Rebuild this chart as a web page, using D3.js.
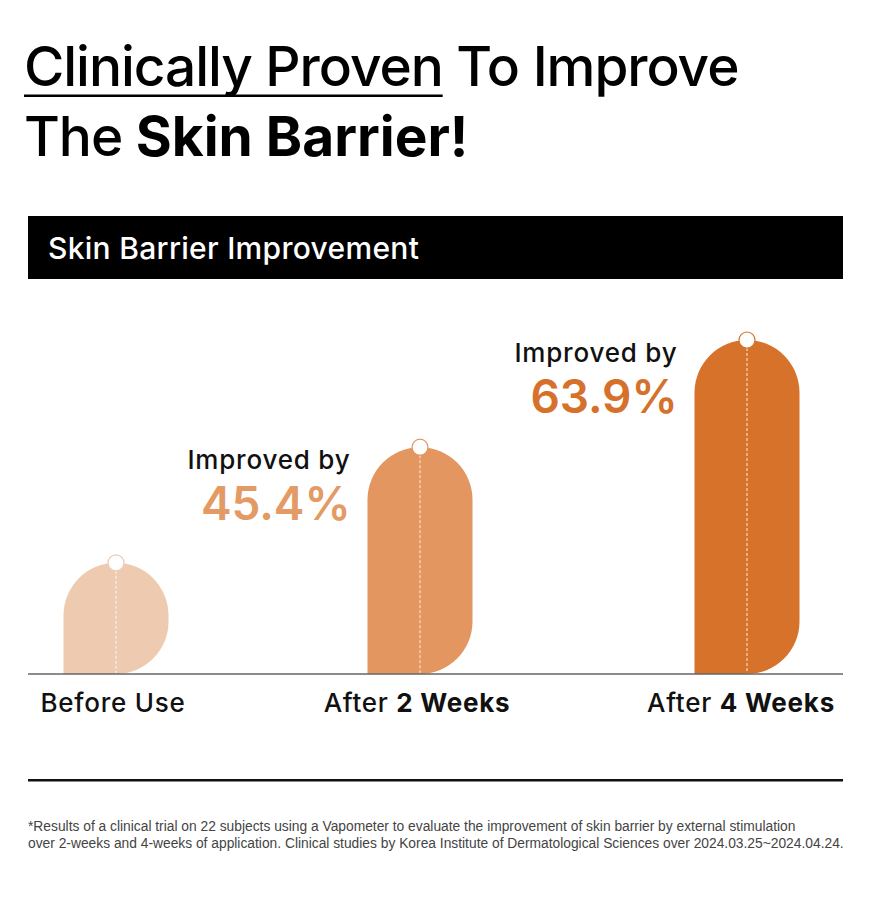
<!DOCTYPE html>
<html>
<head>
<meta charset="utf-8">
<script src="https://cdn.jsdelivr.net/npm/d3@7"></script>
<style>
	body { margin: 0; background: #fff; }
	svg { display: block; font-family: Inter, "Liberation Sans", Arial, sans-serif; }
</style>
</head>
<body>
<svg id="chart" width="872" height="912"></svg>
<script>
	'use strict';

	// data
	var categories = ['Before Use', 'After 2 Weeks', 'After 4 Weeks'];
	var labelPlain = ['Before Use', 'After ', 'After '];
	var labelBold = ['', '2 Weeks', '4 Weeks'];
	var barValues = [33.3, 67.9, 100];           // relative bar height
	var improvements = [null, 45.4, 63.9];        // % improved vs. before use
	var barColors = ['#EECBB0', '#E3965F', '#D6722A'];
	var pctColors = ['#EECBB0', '#E39A64', '#D5712B'];

	var svg = d3.select('#chart');
	var left = 28, right = 843;
	var baseY = 674, topY = 340;
	var barW = 105;

	// title
	var t1 = svg.append('text').attr('x', 24).attr('y', 86)
		.attr('font-size', 55).attr('font-weight', 500).attr('fill', '#000').attr('letter-spacing', -1.05);
	t1.append('tspan').text('Clinically Proven');
	t1.append('tspan').text(' To Improve');
	var ul = t1.select('tspan').node().getComputedTextLength();
	svg.append('rect').attr('x', 24).attr('y', 94.5).attr('width', ul).attr('height', 2.5).attr('fill', '#000');

	var t2 = svg.append('text').attr('x', 24).attr('y', 156)
		.attr('font-size', 55).attr('font-weight', 500).attr('fill', '#000').attr('letter-spacing', -1.05);
	t2.append('tspan').text('The ');
	t2.append('tspan').attr('font-weight', 700).attr('letter-spacing', 0).text('Skin Barrier!');

	// header band
	svg.append('rect').attr('x', left).attr('y', 216).attr('width', right - left).attr('height', 63).attr('fill', '#000');
	svg.append('text').attr('x', 48).attr('y', 259).attr('font-size', 30).attr('font-weight', 500).attr('fill', '#fff')
		.attr('letter-spacing', 0.3).text('Skin Barrier Improvement');

	// scales
	var x = d3.scaleOrdinal().domain(categories).range([116, 420, 747]);
	var y = d3.scaleLinear().domain([0, 100]).range([baseY, topY]);

	var bars = categories.map(function (c, i) {
		return {cat: c, value: barValues[i], imp: improvements[i], color: barColors[i], pct: pctColors[i], i: i};
	});

	function barPath(d) {
		var cx = x(d.cat), x0 = cx - barW / 2, x1 = cx + barW / 2;
		var top = y(d.value), bot = y(0), r = barW / 2;
		return 'M' + x0 + ',' + bot +
			'L' + x0 + ',' + (top + r) +
			'A' + r + ',' + r + ' 0 0 1 ' + x1 + ',' + (top + r) +
			'L' + x1 + ',' + (bot - r) +
			'A' + r + ',' + r + ' 0 0 1 ' + (x1 - r) + ',' + bot + 'Z';
	}

	var g = svg.append('g');
	g.selectAll('path.bar').data(bars).enter().append('path')
		.attr('class', 'bar').attr('d', barPath).attr('fill', function (d) { return d.color; });

	g.selectAll('line.dash').data(bars).enter().append('line')
		.attr('class', 'dash')
		.attr('x1', function (d) { return x(d.cat); }).attr('x2', function (d) { return x(d.cat); })
		.attr('y1', function (d) { return y(d.value) + 8; }).attr('y2', y(0))
		.attr('stroke', '#fff').attr('stroke-width', 1).attr('stroke-dasharray', '3,2').attr('opacity', 0.85);

	g.selectAll('circle.cap').data(bars).enter().append('circle')
		.attr('class', 'cap')
		.attr('cx', function (d) { return x(d.cat); }).attr('cy', function (d) { return y(d.value); })
		.attr('r', 8).attr('fill', '#fff')
		.attr('stroke', function (d) { return d.color; }).attr('stroke-width', 1.2);

	// baseline
	svg.append('line').attr('x1', left).attr('x2', right).attr('y1', baseY).attr('y2', baseY)
		.attr('stroke', '#666').attr('stroke-width', 1.5);

	// improvement labels
	var lab = bars.filter(function (d) { return d.imp !== null; });
	svg.selectAll('text.imp').data(lab).enter().append('text')
		.attr('class', 'imp').attr('text-anchor', 'end')
		.attr('x', function (d) { return x(d.cat) - barW / 2 - 17; })
		.attr('y', function (d) { return y(d.value) + 22; })
		.attr('font-size', 26).attr('font-weight', 500).attr('letter-spacing', 0.8)
		.attr('fill', '#111').text('Improved by');
	svg.selectAll('text.pct').data(lab).enter().append('text')
		.attr('class', 'pct').attr('text-anchor', 'end')
		.attr('x', function (d) { return x(d.cat) - barW / 2 - 17; })
		.attr('y', function (d) { return y(d.value) + 73; })
		.attr('font-size', 46).attr('font-weight', 600).attr('letter-spacing', -0.1)
		.attr('fill', function (d) { return d.pct; })
		.text(function (d) { return d3.format('.1f')(d.imp) + '%'; });

	// category labels
	var cl = svg.selectAll('text.cat').data(bars).enter().append('text')
		.attr('class', 'cat').attr('text-anchor', 'middle')
		.attr('x', function (d) { return x(d.cat) - (d.i === 0 ? 3 : d.i === 2 ? 6 : 3); })
		.attr('y', 712).attr('font-size', 26).attr('font-weight', 500).attr('letter-spacing', 0.75).attr('fill', '#111');
	cl.append('tspan').text(function (d) { return labelPlain[d.i]; });
	cl.append('tspan').attr('font-weight', 700).text(function (d) { return labelBold[d.i]; });

	// footer rule and footnote
	svg.append('rect').attr('x', left).attr('y', 779).attr('width', right - left).attr('height', 2.5).attr('fill', '#111');
	var foot = [
		'*Results of a clinical trial on 22 subjects using a Vapometer to evaluate the improvement of skin barrier by external stimulation',
		'over 2-weeks and 4-weeks of application. Clinical studies by Korea Institute of Dermatological Sciences over 2024.03.25~2024.04.24.'
	];
	svg.selectAll('text.foot').data(foot).enter().append('text')
		.attr('class', 'foot').attr('x', 28).attr('y', function (d, i) { return 831 + i * 17; })
		.attr('font-family', '"Liberation Sans", Arial, sans-serif')
		.attr('font-size', 13.8).attr('fill', '#444').text(function (d) { return d; });
</script>
</body>
</html>
